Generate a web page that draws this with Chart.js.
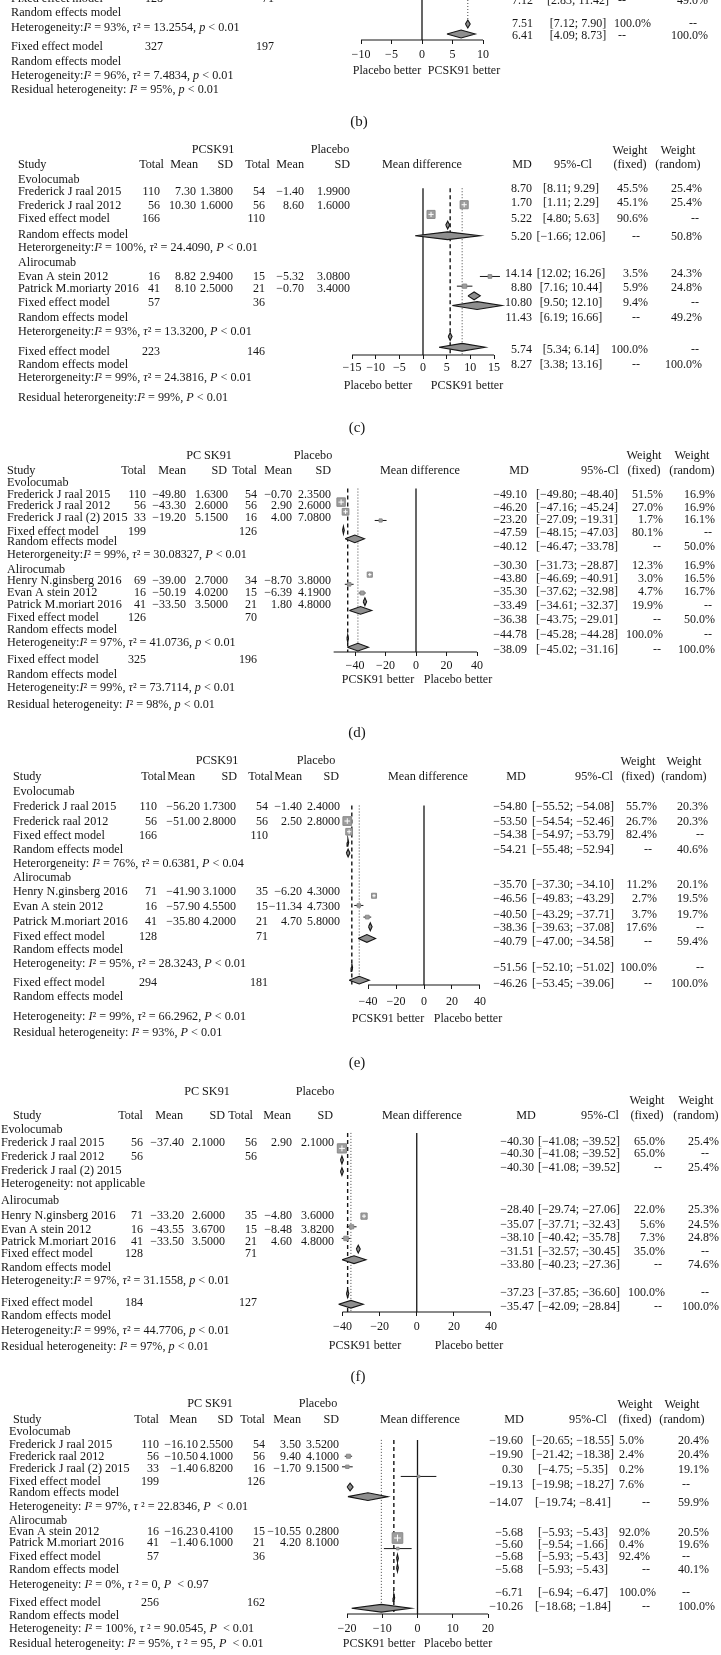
<!DOCTYPE html>
<html>
<head>
<meta charset="utf-8">
<script src="https://cdn.jsdelivr.net/npm/chart.js@4.4.1/dist/chart.umd.min.js"></script>
<style>
  body { margin: 0; background: #fff; width: 721px; height: 1655px; position: relative; overflow: hidden; }
  canvas { position: absolute; left: 0; }
</style>
</head>
<body>
<canvas id="pb"></canvas>
<canvas id="pc"></canvas>
<canvas id="pd"></canvas>
<canvas id="pe"></canvas>
<canvas id="pf"></canvas>
<canvas id="pg"></canvas>
<script>
// ---- (b) tail of the previous panel ----
var bStudy = ['Fixed effect model', 'Random effects model',
  'Heterogeneity:_I_² = 93%, _τ_² = 13.2554, _p_ < 0.01',
  'Fixed effect model', 'Random effects model',
  'Heterogeneity:_I_² = 96%, _τ_² = 7.4834, _p_ < 0.01',
  'Residual heterogeneity: _I_² = 95%, _p_ < 0.01'];
var bTotal1 = [128, null, null, 327];
var bTotal2 = [71, null, null, 197];
var bMD = [7.12, 7.51, 6.41];
var bLow = [2.83, 7.12, 4.09];
var bHigh = [11.42, 7.90, 8.73];
var bWFixed = [null, 100.0, null];
var bWRandom = [49.0, null, 100.0];
var bKind = ['r', 'f', 'r'];
var bTicks = [-10, -5, 0, 5, 10];

// ---- (c) ----
var cStudy = ['Evolocumab', 'Frederick J raal 2015', 'Frederick J raal 2012', 'Fixed effect model', 'Random effects model',
  'Heterorgeneity:_I_² = 100%, _τ_² = 24.4090, _P_ < 0.01', 'Alirocumab', 'Evan A stein 2012', 'Patrick M.moriarty 2016',
  'Fixed effect model', 'Random effects model', 'Heterorgeneity:_I_² = 93%, _τ_² = 13.3200, _P_ < 0.01',
  'Fixed effect model', 'Random effects model', 'Heterorgeneity:_I_² = 99%, _τ_² = 24.3816, _P_ < 0.01',
  'Residual heterorgeneity:_I_² = 99%, _P_ < 0.01'];
var cTotal1 = [null, 110, 56, 166, null, null, null, 16, 41, 57, null, null, 223];
var cMean1 = [null, 7.30, 10.30, null, null, null, null, 8.82, 8.10];
var cSD1 = [null, 1.38, 1.60, null, null, null, null, 2.94, 2.50];
var cTotal2 = [null, 54, 56, 110, null, null, null, 15, 21, 36, null, null, 146];
var cMean2 = [null, -1.40, 8.60, null, null, null, null, -5.32, -0.70];
var cSD2 = [null, 1.99, 1.60, null, null, null, null, 3.08, 3.40];
var cMD = [8.70, 1.70, 5.22, 5.20, 14.14, 8.80, 10.80, 11.43, 5.74, 8.27];
var cLow = [8.11, 1.11, 4.80, -1.66, 12.02, 7.16, 9.50, 6.19, 5.34, 3.38];
var cHigh = [9.29, 2.29, 5.63, 12.06, 16.26, 10.44, 12.10, 16.66, 6.14, 13.16];
var cWFixed = [45.5, 45.1, 90.6, null, 3.5, 5.9, 9.4, null, 100.0, null];
var cWRandom = [25.4, 25.4, null, 50.8, 24.3, 24.8, null, 49.2, null, 100.0];
var cKind = ['s', 's', 'f', 'r', 's', 's', 'f', 'r', 'f', 'r'];
var cTicks = [-15, -10, -5, 0, 5, 10, 15];

// ---- (d) ----
var dStudy = ['Evolocumab', 'Frederick J raal 2015', 'Frederick J raal 2012', 'Frederick J raal (2) 2015',
  'Fixed effect model', 'Random effects model', 'Heterorgeneity:_I_² = 99%, _τ_² = 30.08327, _P_ < 0.01',
  'Alirocumab', 'Henry N.ginsberg 2016', 'Evan A stein 2012', 'Patrick M.moriart 2016',
  'Fixed effect model', 'Random effects model', 'Heterogeneity:_I_² = 97%, _τ_² = 41.0736, _p_ < 0.01',
  'Fixed effect model', 'Random effects model', 'Heterogeneity:_I_² = 99%, _τ_² = 73.7114, _p_ < 0.01',
  'Residual heterogeneity: _I_² = 98%, _p_ < 0.01'];
var dTotal1 = [null, 110, 56, 33, 199, null, null, null, 69, 16, 41, 126, null, null, 325];
var dMean1 = [null, -49.80, -43.30, -19.20, null, null, null, null, -39.00, -50.19, -33.50];
var dSD1 = [null, 1.63, 2.60, 5.15, null, null, null, null, 2.70, 4.02, 3.50];
var dTotal2 = [null, 54, 56, 16, 126, null, null, null, 34, 15, 21, 70, null, null, 196];
var dMean2 = [null, -0.70, 2.90, 4.00, null, null, null, null, -8.70, -6.39, 1.80];
var dSD2 = [null, 2.35, 2.60, 7.08, null, null, null, null, 3.80, 4.19, 4.80];
var dMD = [-49.10, -46.20, -23.20, -47.59, -40.12, -30.30, -43.80, -35.30, -33.49, -36.38, -44.78, -38.09];
var dLow = [-49.80, -47.16, -27.09, -48.15, -46.47, -31.73, -46.69, -37.62, -34.61, -43.75, -45.28, -45.02];
var dHigh = [-48.40, -45.24, -19.31, -47.03, -33.78, -28.87, -40.91, -32.98, -32.37, -29.01, -44.28, -31.16];
var dWFixed = [51.5, 27.0, 1.7, 80.1, null, 12.3, 3.0, 4.7, 19.9, null, 100.0, null];
var dWRandom = [16.9, 16.9, 16.1, null, 50.0, 16.9, 16.5, 16.7, null, 50.0, null, 100.0];
var dKind = ['s', 's', 's', 'f', 'r', 's', 's', 's', 'f', 'r', 'f', 'r'];
var dTicks = [-40, -20, 0, 20, 40];

// ---- (e) ----
var eStudy = ['Evolocumab', 'Frederick J raal 2015', 'Frederick raal 2012', 'Fixed effect model', 'Random effects model',
  'Heterorgeneity: _I_² = 76%, _τ_² = 0.6381, _P_ < 0.04', 'Alirocumab', 'Henry N.ginsberg 2016', 'Evan A stein 2012',
  'Patrick M.moriart 2016', 'Fixed effect model', 'Random effects model',
  'Heterogeneity: _I_² = 95%, _τ_² = 28.3243, _P_ < 0.01', 'Fixed effect model', 'Random effects model',
  'Heterogeneity: _I_² = 99%, _τ_² = 66.2962, _P_ < 0.01', 'Residual heterogeneity: _I_² = 93%, _P_ < 0.01'];
var eTotal1 = [null, 110, 56, 166, null, null, null, 71, 16, 41, 128, null, null, 294];
var eMean1 = [null, -56.20, -51.00, null, null, null, null, -41.90, -57.90, -35.80];
var eSD1 = [null, 1.73, 2.80, null, null, null, null, 3.10, 4.55, 4.20];
var eTotal2 = [null, 54, 56, 110, null, null, null, 35, 15, 21, 71, null, null, 181];
var eMean2 = [null, -1.40, 2.50, null, null, null, null, -6.20, -11.34, 4.70];
var eSD2 = [null, 2.40, 2.80, null, null, null, null, 4.30, 4.73, 5.80];
var eMD = [-54.80, -53.50, -54.38, -54.21, -35.70, -46.56, -40.50, -38.36, -40.79, -51.56, -46.26];
var eLow = [-55.52, -54.54, -54.97, -55.48, -37.30, -49.83, -43.29, -39.63, -47.00, -52.10, -53.45];
var eHigh = [-54.08, -52.46, -53.79, -52.94, -34.10, -43.29, -37.71, -37.08, -34.58, -51.02, -39.06];
var eWFixed = [55.7, 26.7, 82.4, null, 11.2, 2.7, 3.7, 17.6, null, 100.0, null];
var eWRandom = [20.3, 20.3, null, 40.6, 20.1, 19.5, 19.7, null, 59.4, null, 100.0];
var eKind = ['s', 's', 'f', 'r', 's', 's', 's', 'f', 'r', 'f', 'r'];
var eTicks = [-40, -20, 0, 20, 40];

// ---- (f) ----
var fStudy = ['Evolocumab', 'Frederick J raal 2015', 'Frederick J raal 2012', 'Frederick J raal (2) 2015',
  'Heterogeneity: not applicable', 'Alirocumab', 'Henry N.ginsberg 2016', 'Evan A stein 2012', 'Patrick M.moriart 2016',
  'Fixed effect model', 'Random effects model', 'Heterogeneity:_I_² = 97%, _τ_² = 31.1558, _p_ < 0.01',
  'Fixed effect model', 'Random effects model', 'Heterogeneity:_I_² = 99%, _τ_² = 44.7706, _p_ < 0.01',
  'Residual heterogeneity: _I_² = 97%, _p_ < 0.01'];
var fTotal1 = [null, 56, 56, null, null, null, 71, 16, 41, 128, null, null, 184];
var fMean1 = [null, -37.40, null, null, null, null, -33.20, -43.55, -33.50];
var fSD1 = [null, 2.10, null, null, null, null, 2.60, 3.67, 3.50];
var fTotal2 = [null, 56, 56, null, null, null, 35, 15, 21, 71, null, null, 127];
var fMean2 = [null, 2.90, null, null, null, null, -4.80, -8.48, 4.60];
var fSD2 = [null, 2.10, null, null, null, null, 3.60, 3.82, 4.80];
var fMD = [-40.30, -40.30, -40.30, -28.40, -35.07, -38.10, -31.51, -33.80, -37.23, -35.47];
var fLow = [-41.08, -41.08, -41.08, -29.74, -37.71, -40.42, -32.57, -40.23, -37.85, -42.09];
var fHigh = [-39.52, -39.52, -39.52, -27.06, -32.43, -35.78, -30.45, -27.36, -36.60, -28.84];
var fWFixed = [65.0, 65.0, null, 22.0, 5.6, 7.3, 35.0, null, 100.0, null];
var fWRandom = [25.4, null, 25.4, 25.3, 24.5, 24.8, null, 74.6, null, 100.0];
var fKind = ['s', 'f', 'r', 's', 's', 's', 'f', 'r', 'f', 'r'];
var fTicks = [-40, -20, 0, 20, 40];

// ---- (g) ----
var gStudy = ['Evolocumab', 'Frederick J raal 2015', 'Frederick raal 2012', 'Frederick J raal (2) 2015',
  'Fixed effect model', 'Random effects model', 'Heterogeneity: _I_² = 97%, _τ_ ² = 22.8346, _P_  < 0.01',
  'Alirocumab', 'Evan A stein 2012', 'Patrick M.moriart 2016', 'Fixed effect model', 'Random effects model',
  'Heterogeneity: _I_² = 0%, _τ_ ² = 0, _P_  < 0.97', 'Fixed effect model', 'Random effects model',
  'Heterogeneity: _I_² = 100%, _τ_ ² = 90.0545, _P_  < 0.01',
  'Residual heterogeneity: _I_² = 95%, _τ_ ² = 95, _P_  < 0.01'];
var gTotal1 = [null, 110, 56, 33, 199, null, null, null, 16, 41, 57, null, null, 256];
var gMean1 = [null, -16.10, -10.50, -1.40, null, null, null, null, -16.23, -1.40];
var gSD1 = [null, 2.55, 4.10, 6.82, null, null, null, null, 0.41, 6.10];
var gTotal2 = [null, 54, 56, 16, 126, null, null, null, 15, 21, 36, null, null, 162];
var gMean2 = [null, 3.50, 9.40, -1.70, null, null, null, null, -10.55, 4.20];
var gSD2 = [null, 3.52, 4.10, 9.15, null, null, null, null, 0.28, 8.10];
var gMD = [-19.60, -19.90, 0.30, -19.13, -14.07, -5.68, -5.60, -5.68, -5.68, -6.71, -10.26];
var gLow = [-20.65, -21.42, -4.75, -19.98, -19.74, -5.93, -9.54, -5.93, -5.93, -6.94, -18.68];
var gHigh = [-18.55, -18.38, 5.35, -18.27, -8.41, -5.43, -1.66, -5.43, -5.43, -6.47, -1.84];
var gCiText = { 2: '[−4.75; −5.35]' };   // printed this way in the source
var gWFixed = [5.0, 2.4, 0.2, 7.6, null, 92.0, 0.4, 92.4, null, 100.0, null];
var gWRandom = [20.4, 20.4, 19.1, null, 59.9, 20.5, 19.6, null, 40.1, null, 100.0];
var gKind = ['s', 's', 's', 'f', 'r', 's', 's', 'f', 'r', 'f', 'r'];
var gTicks = [-20, -10, 0, 10, 20];

var colHeads = ['Total', 'Mean', 'SD', 'Total', 'Mean', 'SD'];

var FONT = '"Liberation Serif", "Times New Roman", serif';
var INK = '#161616';
var MINUS = '\u2212';
var LBL = 12.2;   // text size
var NUM = 12;     // number size

function num(v, d) {
  if (v == null) return '';
  return (v < 0 ? MINUS : '') + Math.abs(v).toFixed(d);
}
function pct(v) { return v == null ? '--' : v.toFixed(1) + '%'; }

// text with _italic_ parts
function drawRich(ctx, str, x, y, align, size) {
  var parts = String(str).split('_');
  var w = 0;
  parts.forEach(function (p, i) {
    ctx.font = (i % 2 ? 'italic ' : '') + size + 'px ' + FONT;
    w += ctx.measureText(p).width;
  });
  var cx = align === 'right' ? x - w : (align === 'center' ? x - w / 2 : x);
  ctx.textAlign = 'left';
  parts.forEach(function (p, i) {
    ctx.font = (i % 2 ? 'italic ' : '') + size + 'px ' + FONT;
    ctx.fillText(p, cx, y);
    cx += ctx.measureText(p).width;
  });
}

// layout of each panel (page pixel coordinates); t0/t1 = pixel of first/last tick
var panels = [
  { id: 'pb', top: 0, bottom: 135, axisY: 40, xMin: -10, xMax: 10, t0: 361, t1: 483, ticks: bTicks, tickPad: 4,
    study: bStudy, cols: [bTotal1, [], [], bTotal2, [], []], md: bMD, lo: bLow, hi: bHigh, wf: bWFixed, wr: bWRandom, kind: bKind,
    labelX: 11, leftY: [-1, 13, 28, 47, 62, 76, 90], colX: [163, 0, 0, 274, 0, 0],
    rightY: [1, 24, 36], markY: [null, 24, 34], mdX: 533, ciX: 578,
    wfCol: { x: 651, align: 'right', dashX: 622 }, wrCol: { x: 708, align: 'right', dashX: 693 },
    zero: [0, 40], refLines: [{ idx: 1, dash: 'dot', y0: 0, y1: 21 }],
    side: [['Placebo better', 387], ['PCSK91 better', 464]], sideY: 71, caption: ['(b)', 359, 122] },
  { id: 'pc', top: 135, bottom: 440, axisY: 355, xMin: -15, xMax: 18, t0: 352, t1: 494, ticks: cTicks, tickPad: 2,
    study: cStudy, cols: [cTotal1, cMean1, cSD1, cTotal2, cMean2, cSD2], md: cMD, lo: cLow, hi: cHigh, wf: cWFixed, wr: cWRandom, kind: cKind,
    labelX: 18, leftY: [180, 192, 206, 219, 235, 248, 263, 277, 289, 303, 318, 332, 352, 365, 378, 398],
    colX: [160, 196, 233, 265, 304, 350],
    rightY: [189, 203, 219, 237, 274, 288, 303, 318, 350, 365], markY: [200, 210, 221, 232, 274, 284, 294, 304, 336, 347],
    mdX: 532, ciX: 571, wfCol: { x: 648, align: 'right', dashX: 636 }, wrCol: { x: 702, align: 'right', dashX: 695 },
    zero: [183, 355], refLines: [{ idx: 8, dash: 'dash', y0: 183, y1: 355 }, { idx: 9, dash: 'dot', y0: 183, y1: 355 }],
    side: [['Placebo better', 378], ['PCSK91 better', 467]], sideY: 386, caption: ['(c)', 357, 428],
    head: { pc: ['PCSK91', 213, 150], pl: ['Placebo', 330, 150], studyX: 18, y: 165, colX: [164, 198, 233, 270, 304, 350],
      meanDiffX: 422, mdX: 522, ciX: 573, topY: 151, wfX: 630, wrX: 678 } },
  { id: 'pd', top: 440, bottom: 745, axisY: 652, xMin: -55, xMax: 40, t0: 355, t1: 477, axisFrom: -54, ticks: dTicks, tickPad: 3,
    study: dStudy, cols: [dTotal1, dMean1, dSD1, dTotal2, dMean2, dSD2], md: dMD, lo: dLow, hi: dHigh, wf: dWFixed, wr: dWRandom, kind: dKind,
    labelX: 7, leftY: [483, 495, 506, 518, 532, 542, 555, 570, 581, 593, 605, 618, 630, 643, 660, 675, 688, 705],
    colX: [146, 186, 228, 257, 292, 331],
    rightY: [495, 508, 520, 533, 547, 566, 579, 592, 606, 620, 635, 650],
    markY: [497, 507, 516, 526, 535, 572, 582, 591, 600, 609, 638, 647],
    mdX: 527, ciX: 577, wfCol: { x: 663, align: 'right', dashX: 657 }, wrCol: { x: 715, align: 'right', dashX: 708 },
    zero: [483, 652], refLines: [{ idx: 10, dash: 'dash', y0: 483, y1: 652 }, { idx: 11, dash: 'dot', y0: 483, y1: 652 }],
    side: [['PCSK91 better', 378], ['Placebo better', 458]], sideY: 680, caption: ['(d)', 357, 733],
    head: { pc: ['PC SK91', 209, 456], pl: ['Placebo', 313, 456], studyX: 7, y: 471, colX: [146, 186, 227, 257, 292, 331],
      meanDiffX: 420, mdX: 519, ciX: 600, topY: 456, wfX: 644, wrX: 692 } },
  { id: 'pe', top: 745, bottom: 1075, axisY: 985, xMin: -57, xMax: 40, t0: 368, t1: 480, ticks: eTicks, tickPad: 6,
    study: eStudy, cols: [eTotal1, eMean1, eSD1, eTotal2, eMean2, eSD2], md: eMD, lo: eLow, hi: eHigh, wf: eWFixed, wr: eWRandom, kind: eKind,
    labelX: 13, leftY: [792, 807, 822, 836, 850, 864, 878, 892, 907, 922, 937, 950, 964, 983, 997, 1017, 1033],
    colX: [157, 200, 236, 268, 302, 340],
    rightY: [807, 822, 835, 850, 885, 899, 915, 928, 942, 968, 984],
    markY: [816, 827, 838, 849, 893, 903, 915, 925, 937, 967, 980],
    mdX: 527, ciX: 573, wfCol: { x: 657, align: 'right', dashX: 648 }, wrCol: { x: 708, align: 'right', dashX: 700 },
    zero: [800, 985], refLines: [{ idx: 9, dash: 'dash', y0: 800, y1: 985 }, { idx: 10, dash: 'dot', y0: 800, y1: 985 }],
    side: [['PCSK91 better', 388], ['Placebo better', 468]], sideY: 1019, caption: ['(e)', 357, 1063],
    head: { pc: ['PCSK91', 217, 761], pl: ['Placebo', 316, 761], studyX: 13, y: 777, colX: [166, 195, 237, 273, 302, 339],
      meanDiffX: 428, mdX: 516, ciX: 594, topY: 762, wfX: 638, wrX: 684 } },
  { id: 'pf', top: 1075, bottom: 1390, axisY: 1312, xMin: -44, xMax: 40, t0: 342.5, t1: 491, ticks: fTicks, tickPad: 4,
    study: fStudy, cols: [fTotal1, fMean1, fSD1, fTotal2, fMean2, fSD2], md: fMD, lo: fLow, hi: fHigh, wf: fWFixed, wr: fWRandom, kind: fKind,
    labelX: 1, leftY: [1130, 1143, 1157, 1171, 1184, 1201, 1216, 1230, 1242, 1254, 1268, 1281, 1303, 1316, 1331, 1347],
    colX: [143, 184, 225, 257, 292, 334],
    rightY: [1142, 1154, 1168, 1210, 1225, 1238, 1252, 1265, 1293, 1307],
    markY: [1143, 1155, 1167, 1213, 1224, 1236, 1247, 1258, 1293, 1304],
    mdX: 534, ciX: 579, wfCol: { x: 665, align: 'right', dashX: 658 }, wrCol: { x: 719, align: 'right', dashX: 705 },
    zero: [1127, 1312], refLines: [{ idx: 8, dash: 'dash', y0: 1127, y1: 1312 }, { idx: 9, dash: 'dot', y0: 1127, y1: 1312 }],
    side: [['PCSK91 better', 365], ['Placebo better', 469]], sideY: 1346, caption: ['(f)', 358, 1377],
    head: { pc: ['PC SK91', 207, 1092], pl: ['Placebo', 315, 1092], studyX: 13, y: 1116, colX: [143, 183, 225, 253, 291, 333],
      meanDiffX: 422, mdX: 526, ciX: 600, topY: 1101, wfX: 647, wrX: 696 } },
  { id: 'pg', top: 1390, bottom: 1655, axisY: 1614, xMin: -23, xMax: 20, t0: 347, t1: 488, ticks: gTicks, tickPad: 4,
    study: gStudy, cols: [gTotal1, gMean1, gSD1, gTotal2, gMean2, gSD2], md: gMD, lo: gLow, hi: gHigh, wf: gWFixed, wr: gWRandom, kind: gKind,
    ciText: gCiText,
    labelX: 9, leftY: [1432, 1445, 1457, 1469, 1482, 1493, 1507, 1521, 1532, 1543, 1557, 1570, 1585, 1603, 1616, 1629, 1644],
    colX: [159, 198, 233, 265, 301, 339],
    rightY: [1441, 1455, 1470, 1485, 1503, 1533, 1545, 1557, 1570, 1593, 1607],
    markY: [1450, 1461, 1471, 1482, 1492, 1535, 1546, 1556, 1566, 1597, 1608],
    mdX: 523, ciX: 573, wfCol: { x: 619, align: 'left', dashX: 646 }, wrCol: { x: 678, align: 'left', dashX: 686 },
    zero: [1433, 1614], refLines: [{ idx: 9, dash: 'dash', y0: 1433, y1: 1614 }, { idx: 10, dash: 'dot', y0: 1433, y1: 1614 }],
    side: [['PCSK91 better', 379], ['Placebo better', 458]], sideY: 1644,
    head: { pc: ['PC SK91', 210, 1404], pl: ['Placebo', 318, 1404], studyX: 13, y: 1420, colX: [159, 197, 233, 265, 301, 339],
      meanDiffX: 420, mdX: 514, ciX: 588, topY: 1405, wfX: 635, wrX: 682 } }
];

var colDigits = [0, 2, 4, 0, 2, 4];

function textPlugin(p) {
  return {
    id: 'forestText',
    afterDraw: function (chart) {
      var ctx = chart.ctx;
      ctx.save();
      ctx.fillStyle = INK;
      ctx.textBaseline = 'middle';
      var T = function (s, x, y, align, size) { drawRich(ctx, s, x, y - p.top, align || 'left', size || LBL); };

      if (p.head) {
        var h = p.head;
        T(h.pc[0], h.pc[1], h.pc[2], 'center');
        T(h.pl[0], h.pl[1], h.pl[2], 'center');
        T('Study', h.studyX, h.y);
        colHeads.forEach(function (c, j) { T(c, h.colX[j], h.y, 'right'); });
        T('Mean difference', h.meanDiffX, h.y, 'center');
        T('MD', h.mdX, h.y, 'center');
        T('95%-Cl', h.ciX, h.y, 'center');
        T('Weight', h.wfX, h.topY, 'center');
        T('(fixed)', h.wfX, h.y, 'center');
        T('Weight', h.wrX, h.topY, 'center');
        T('(random)', h.wrX, h.y, 'center');
      }

      // left table
      p.study.forEach(function (lab, i) {
        var y = p.leftY[i];
        T(lab, p.labelX, y);
        p.cols.forEach(function (arr, j) {
          var v = arr[i];
          if (v == null) return;
          T(colDigits[j] ? num(v, colDigits[j]) : String(v), p.colX[j], y, 'right', NUM);
        });
      });

      // right table
      p.md.forEach(function (v, i) {
        var y = p.rightY[i];
        T(num(v, 2), p.mdX, y, 'right', NUM);
        var ci = (p.ciText && p.ciText[i]) || ('[' + num(p.lo[i], 2) + '; ' + num(p.hi[i], 2) + ']');
        T(ci, p.ciX, y, 'center', NUM);
        [[p.wf[i], p.wfCol], [p.wr[i], p.wrCol]].forEach(function (cell) {
          if (cell[0] == null) T('--', cell[1].dashX, y, 'center', NUM);
          else T(pct(cell[0]), cell[1].x, y, cell[1].align, NUM);
        });
      });

      p.side.forEach(function (s) { T(s[0], s[1], p.sideY, 'center', 12); });
      if (p.caption) T(p.caption[0], p.caption[1], p.caption[2], 'center', 15);
      ctx.restore();
    }
  };
}

function seg(x0, y0, x1, y1, color, width, dash, order) {
  return {
    data: [{ x: x0, y: y0 }, { x: x1, y: y1 }], showLine: true, borderColor: color, borderWidth: width,
    borderDash: dash || [], pointRadius: 0, fill: false, clip: false, order: order
  };
}

function makeChart(p) {
  var canvas = document.getElementById(p.id);
  var H = p.bottom - p.top;
  canvas.width = 721;
  canvas.height = H;
  canvas.style.top = p.top + 'px';

  var tFirst = p.ticks[0], tLast = p.ticks[p.ticks.length - 1];
  var k = (p.t1 - p.t0) / (tLast - tFirst);
  var padL = p.t0 - (tFirst - p.xMin) * k;
  var padR = 721 - (p.t1 + (p.xMax - tLast) * k);

  var ds = [];
  // axis line, only over the printed range
  ds.push(seg(p.axisFrom != null ? p.axisFrom : tFirst, p.axisY, tLast, p.axisY, INK, 1.2, null, 7));
  ds.push(seg(0, p.zero[0], 0, p.zero[1], INK, 1.3, null, 6));
  p.refLines.forEach(function (r) {
    var v = p.md[r.idx];
    if (r.dash === 'dash') ds.push(seg(v, r.y0, v, r.y1, INK, 1.4, [4, 3], 6));
    else ds.push(seg(v, r.y0, v, r.y1, '#444', 1, [1, 2], 6));
  });

  var boxes = [], boxR = [], crossR = [];
  p.kind.forEach(function (kd, i) {
    var y = p.markY[i];
    if (y == null) return;
    if (kd === 's') {
      ds.push(seg(p.lo[i], y, p.hi[i], y, INK, 1, null, 5));
      var side = 2 + 9 * Math.sqrt((p.wf[i] || 0) / 100);
      boxes.push({ x: p.md[i], y: y });
      boxR.push(side / Math.SQRT2);
      crossR.push(side > 5 ? side * 0.32 : 0);
    } else {
      var dh = 4;
      ds.push({
        data: [{ x: p.lo[i], y: y }, { x: p.md[i], y: y - dh }, { x: p.hi[i], y: y }, { x: p.md[i], y: y + dh }, { x: p.lo[i], y: y }],
        showLine: true, fill: 'shape', backgroundColor: '#8e8e8e', borderColor: INK, borderWidth: 1.1,
        pointRadius: 0, clip: false, order: 4
      });
    }
  });
  ds.push({ data: boxes, pointStyle: 'rect', pointRadius: boxR, backgroundColor: '#9e9e9e', borderColor: '#8a8a8a',
    borderWidth: 1, showLine: false, clip: false, order: 2 });
  ds.push({ data: boxes, pointStyle: 'cross', pointRadius: crossR, borderColor: '#ffffff', backgroundColor: '#ffffff',
    borderWidth: 1, showLine: false, clip: false, order: 1 });

  new Chart(canvas.getContext('2d'), {
    type: 'scatter',
    data: { datasets: ds },
    options: {
      responsive: false,
      animation: false,
      events: [],
      layout: { padding: { left: padL, right: padR, top: 0, bottom: H - (p.axisY - p.top) - 30 } },
      plugins: { legend: { display: false }, tooltip: { enabled: false } },
      scales: {
        x: {
          type: 'linear', min: p.xMin, max: p.xMax,
          afterFit: function (s) { s.height = 30; },
          afterBuildTicks: function (s) { s.ticks = p.ticks.map(function (v) { return { value: v }; }); },
          grid: { drawOnChartArea: false, drawTicks: true, tickLength: 4, color: INK, lineWidth: 1 },
          border: { display: false },
          ticks: {
            padding: p.tickPad, color: INK, maxRotation: 0, autoSkip: false,
            font: { family: FONT, size: NUM },
            callback: function (v) { return (v < 0 ? MINUS : '') + Math.abs(v); }
          }
        },
        y: { type: 'linear', display: false, min: p.top, max: p.axisY, reverse: true }
      }
    },
    plugins: [textPlugin(p)]
  });
}

panels.forEach(makeChart);
</script>
</body>
</html>
